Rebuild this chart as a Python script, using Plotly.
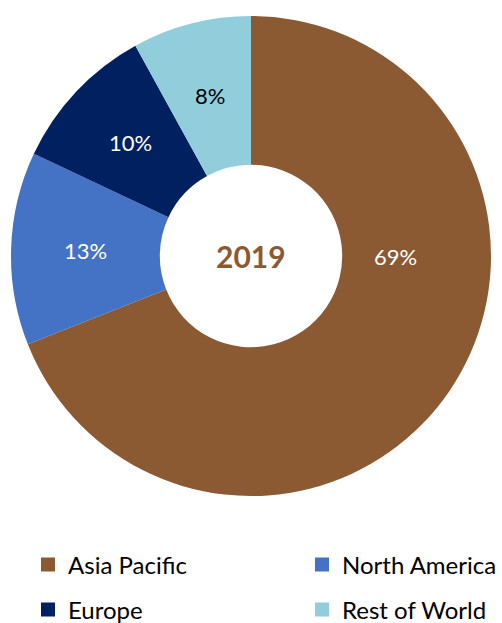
import math
import plotly.graph_objects as go

regions = ["Asia Pacific", "North America", "Europe", "Rest of World"]
shares = [69, 13, 10, 8]
colors = ["#8B5A33", "#4472C4", "#002060", "#92CDDC"]
label_colors = ["white", "white", "white", "black"]
year = "2019"

W, H = 502, 623
ML, MR, MT, MB = 11, 11, 16, 127
plot_w = W - ML - MR
plot_h = H - MT - MB
HOLE = 0.38

fig = go.Figure()
fig.add_trace(go.Pie(
    labels=regions,
    values=shares,
    hole=HOLE,
    sort=False,
    direction="clockwise",
    rotation=0,
    marker=dict(colors=colors, line=dict(width=0)),
    textinfo="none",
    domain=dict(x=[0, 1], y=[0, 1]),
    showlegend=False,
))

# percentage labels: at the middle of the ring on each slice's bisector,
# except the largest slice whose label sits at 3 o'clock in the original
total = sum(shares)
cum = 0.0
R_px = min(plot_w, plot_h) / 2
for i, v in enumerate(shares):
    frac = v / total
    if i == 0:
        ang, rr = math.pi / 2, 0.6
    else:
        ang, rr = 2 * math.pi * (cum + frac / 2), (1 + HOLE) / 2
    cum += frac
    dx = rr * R_px * math.sin(ang) / plot_w
    dy = rr * R_px * math.cos(ang) / plot_h
    fig.add_annotation(
        text=f"{frac:.0%}", x=0.5 + dx, y=0.5 + dy, xref="paper", yref="paper",
        xanchor="center", yanchor="middle",
        showarrow=False, font=dict(size=22, color=label_colors[i], family="Lato"),
    )

# legend entries, two per row as in the original
legend_names = ["legend", "legend2", "legend3", "legend4"]
for i, (name, col) in enumerate(zip(regions, colors)):
    fig.add_trace(go.Scatter(
        x=[None], y=[None], mode="markers", name=name,
        marker=dict(symbol="square", size=14, color=col),
        legend=legend_names[i],
        showlegend=True,
    ))

fig.add_annotation(
    text=f"<b>{year}</b>", x=0.5, y=0.5, xref="paper", yref="paper",
    xanchor="center", yanchor="middle",
    showarrow=False, font=dict(size=30, color=colors[0], family="Lato"),
)

legend_common = dict(
    orientation="h",
    xref="container", yref="container",
    xanchor="left", yanchor="middle",
    font=dict(size=24, family="Lato", color="black"),
    bgcolor="rgba(0,0,0,0)",
    itemwidth=30,
)
col_x = [28 / W, 302 / W]
row_y = [1 - 565 / H, 1 - 610 / H]
legend_layout = {}
for i, ln in enumerate(legend_names):
    legend_layout[ln] = dict(legend_common, x=col_x[i % 2], y=row_y[i // 2])

fig.update_layout(
    width=W, height=H,
    margin=dict(l=ML, r=MR, t=MT, b=MB, autoexpand=False),
    paper_bgcolor="white",
    plot_bgcolor="white",
    xaxis=dict(visible=False),
    yaxis=dict(visible=False),
    font=dict(family="Lato"),
    **legend_layout,
)

fig.write_html("out.html")
